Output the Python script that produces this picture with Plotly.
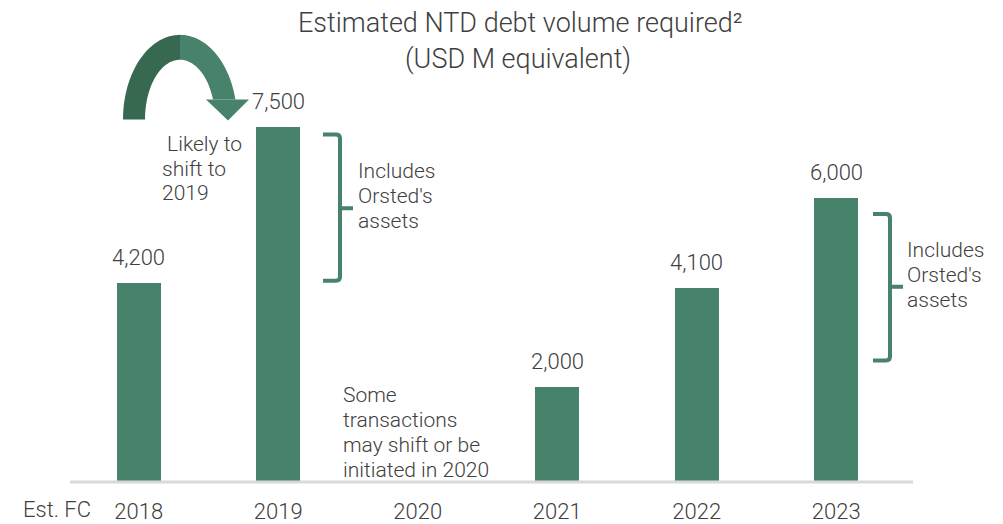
import numpy as np
import plotly.graph_objects as go

categories = ["2018", "2019", "2020", "2021", "2022", "2023"]
values = [4200, 7500, None, 2000, 4100, 6000]
value_labels = ["4,200", "7,500", "", "2,000", "4,100", "6,000"]

W, H = 1003, 524
L, R, T, B = 69, 906, 0, 484
BAR = "#47826A"
DARK = "#376850"
TXT = "#404040"
FONT = "Roboto"

def px(x):
    return (x - L) / (R - L)

def py(y):
    return (B - y) / (B - T)

fig = go.Figure()
fig.add_trace(go.Bar(x=categories, y=[v if v is not None else 0 for v in values],
                     marker=dict(color=BAR, line=dict(width=0)), width=0.315,
                     hoverinfo="skip"))

ymax = (B - T) / (356 / 7500)
n = len(categories)

annotations = []
for i, (c, v, lab) in enumerate(zip(categories, values, value_labels)):
    if v is None:
        continue
    annotations.append(dict(x=(i + 0.5) / n, y=v / ymax, xref="paper", yref="paper",
                            text=lab, showarrow=False,
                            xanchor="center", yanchor="middle", yshift=26,
                            font=dict(family=FONT, size=22, color=TXT, weight=300)))

def note(x, y, lines, size=21, step=25):
    for i, t in enumerate(lines):
        annotations.append(dict(x=px(x), y=py(y + i * step), xref="paper", yref="paper", text=t,
                                showarrow=False, xanchor="left", yanchor="middle", align="left",
                                font=dict(family=FONT, size=size, color=TXT, weight=300)))

note(160, 145, ["\u00a0Likely to", "shift to", "2019"], step=24.5)
note(356, 172, ["Includes", "Orsted's", "assets"])
note(905, 251, ["Includes", "Orsted's", "assets"])
note(341, 397, ["Some", "transactions", "may shift or be", "initiated in 2020"])

annotations.append(dict(x=px(57), y=py(512), xref="paper", yref="paper", text="Est. FC",
                        showarrow=False, xanchor="center", yanchor="middle",
                        font=dict(family=FONT, size=22, color=TXT, weight=300)))
annotations.append(dict(x=px(520), y=py(23), xref="paper", yref="paper",
                        text="Estimated NTD debt volume required²", showarrow=False,
                        xanchor="center", yanchor="middle",
                        font=dict(family=FONT, size=27, color=TXT, weight=300)))
annotations.append(dict(x=px(518), y=py(59), xref="paper", yref="paper",
                        text="(USD M equivalent)", showarrow=False,
                        xanchor="center", yanchor="middle",
                        font=dict(family=FONT, size=27, color=TXT, weight=300)))

shapes = []
# axis baseline
shapes.append(dict(type="line", xref="paper", yref="paper", x0=px(70), x1=px(913),
                   y0=py(B), y1=py(B), line=dict(color="#d9d9d9", width=3)))

def brace(x0, x1, xt, ytop, ybot, ymid):
    r = 4
    path = (f"M {px(x0)},{py(ytop)} L {px(x1 - r)},{py(ytop)} "
            f"Q {px(x1)},{py(ytop)} {px(x1)},{py(ytop + r)} "
            f"L {px(x1)},{py(ybot - r)} Q {px(x1)},{py(ybot)} {px(x1 - r)},{py(ybot)} "
            f"L {px(x0)},{py(ybot)} "
            f"M {px(x1)},{py(ymid)} L {px(xt)},{py(ymid)}")
    shapes.append(dict(type="path", xref="paper", yref="paper", path=path,
                       line=dict(color=BAR, width=4)))

brace(323, 340, 353, 135, 282, 209)
brace(873, 890, 903, 215, 362, 288)

# curved arrow
cx, cy = 180, 120
orx, ory = 57, 85
irx, iry = 35, 60

def arc_pts(rx, ry, a0, a1, n=40):
    ts = np.linspace(a0, a1, n)
    return [(cx - rx * np.cos(t), cy - ry * np.sin(t)) for t in ts]

end_o = np.pi - np.arcsin(20 / ory)
end_i = np.pi - np.arcsin(20 / iry)

def poly(points):
    s = "M " + " L ".join(f"{px(a)},{py(b)}" for a, b in points) + " Z"
    return s

left = arc_pts(orx, ory, 0, np.pi / 2) + arc_pts(irx, iry, np.pi / 2, 0)
right = arc_pts(orx, ory, np.pi / 2, end_o) + arc_pts(irx, iry, end_i, np.pi / 2)
shapes.append(dict(type="path", xref="paper", yref="paper", path=poly(left),
                   fillcolor=DARK, line=dict(width=0)))
shapes.append(dict(type="path", xref="paper", yref="paper", path=poly(right),
                   fillcolor=BAR, line=dict(width=0)))
head = [(206, 100), (249, 100), (228, 121)]
shapes.append(dict(type="path", xref="paper", yref="paper", path=poly(head),
                   fillcolor=BAR, line=dict(width=0)))

fig.update_layout(
    width=W, height=H,
    margin=dict(l=L, r=W - R, t=T, b=H - B),
    paper_bgcolor="white", plot_bgcolor="white",
    showlegend=False,
    bargap=0,
    xaxis=dict(type="category", showgrid=False, showline=False, zeroline=False, ticks="",
               range=[-0.5, 5.5], ticklabelstandoff=14,
               tickfont=dict(family=FONT, size=22, color=TXT, weight=300), fixedrange=True),
    yaxis=dict(visible=False, range=[0, ymax], fixedrange=True),
    annotations=annotations,
    shapes=shapes,
)

fig.write_html("out.html")
